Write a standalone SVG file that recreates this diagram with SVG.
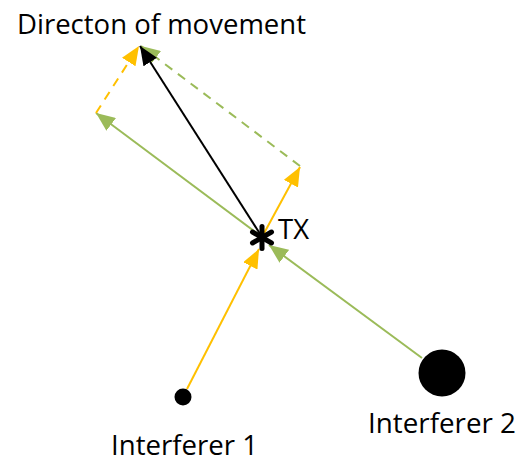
<svg xmlns="http://www.w3.org/2000/svg" width="520" height="463" viewBox="0 0 520 463">
<style>
.t{font-family:"Open Sans","Liberation Sans",Arial,sans-serif;fill:#000;font-size:27px}
.g{stroke:#9BBB59;stroke-width:2;fill:none}
.y{stroke:#FFC000;stroke-width:2;fill:none}
.k{stroke:#000;stroke-width:2;fill:none}
.d{stroke-dasharray:9,7}
</style>
<defs>
<marker id="ag" markerUnits="userSpaceOnUse" markerWidth="20" markerHeight="16" refX="19" refY="8" orient="auto"><path d="M0,0 L19,8 L0,16 Z" fill="#9BBB59"/></marker>
<marker id="ay" markerUnits="userSpaceOnUse" markerWidth="20" markerHeight="16" refX="19" refY="8" orient="auto"><path d="M0,0 L19,8 L0,16 Z" fill="#FFC000"/></marker>
<marker id="ak" markerUnits="userSpaceOnUse" markerWidth="20" markerHeight="16" refX="19" refY="8" orient="auto"><path d="M0,0 L19,8 L0,16 Z" fill="#000"/></marker>
</defs>
<g id="connectors">
<line class="y" x1="187" y1="389" x2="259" y2="249" marker-end="url(#ay)"/>
<line class="g" x1="422" y1="358" x2="269" y2="245" marker-end="url(#ag)"/>
<line class="g" x1="262" y1="237" x2="96" y2="113" marker-end="url(#ag)"/>
<line class="y" x1="262" y1="237" x2="300" y2="167" marker-end="url(#ay)"/>
<line class="y d" x1="96" y1="113" x2="139" y2="46" marker-end="url(#ay)"/>
<line class="g d" x1="300" y1="166" x2="141" y2="46" marker-end="url(#ag)"/>
<line class="k" x1="262" y1="237" x2="140" y2="46" marker-end="url(#ak)"/>
</g>
<g id="tx">
<g stroke="#000" stroke-width="5" stroke-linecap="round">
<line x1="262" y1="226.5" x2="262" y2="248.5"/>
<line x1="252.5" y1="232" x2="271.5" y2="243"/>
<line x1="252.5" y1="243" x2="271.5" y2="232"/>
</g>
<text class="t" x="278" y="239" font-size="25" textLength="31" lengthAdjust="spacingAndGlyphs">TX</text>
</g>
<g id="interferer1">
<circle cx="183" cy="397" r="8.5" fill="#000"/>
<text class="t" x="111" y="455" textLength="147" lengthAdjust="spacingAndGlyphs">Interferer 1</text>
</g>
<g id="interferer2">
<circle cx="442" cy="373" r="23.5" fill="#000"/>
<text class="t" x="368" y="433" textLength="148" lengthAdjust="spacingAndGlyphs">Interferer 2</text>
</g>
<g id="direction">
<text class="t" x="17" y="34" textLength="289" lengthAdjust="spacingAndGlyphs">Directon of movement</text>
</g>
</svg>
